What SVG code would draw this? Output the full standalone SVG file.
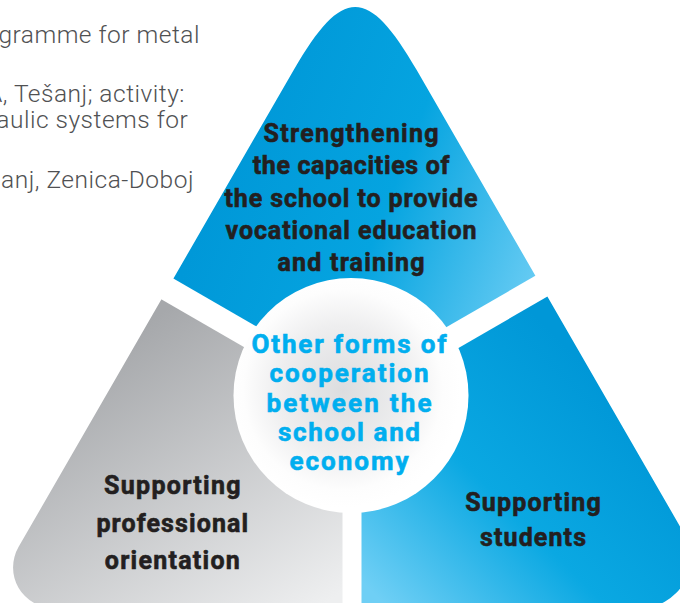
<svg xmlns="http://www.w3.org/2000/svg" width="680" height="603" viewBox="0 0 680 603">
  <style>
    .note { font-family: Roboto, "Liberation Sans", sans-serif; font-weight: 300; font-size: 24.5px; letter-spacing: 0.5px; fill: #505153; text-anchor: end; }
    .lbl { font-family: Roboto, "Liberation Sans", sans-serif; font-weight: 700; font-size: 25px; fill: #231f20; stroke: #231f20; stroke-width: 0.6px; text-anchor: middle; }
    .mid { font-family: Roboto, "Liberation Sans", sans-serif; font-weight: 700; font-size: 26px; fill: #00aeef; stroke: #00aeef; stroke-width: 0.6px; text-anchor: middle; }
  </style>
  <defs>
    <clipPath id="tri">
      <path d="M293.7,70 C342.3,-14.1 368.1,-14.1 416.7,70 L683.8,533 A50,50 0 0 1 640.5,608 L53.6,608 A40.6,40.6 0 0 1 18.5,547.1 Z"/>
    </clipPath>
    <linearGradient id="gTop" gradientUnits="userSpaceOnUse" x1="230" y1="150" x2="540" y2="270">
      <stop offset="0" stop-color="#0098d8"/>
      <stop offset="0.5" stop-color="#05a4e0"/>
      <stop offset="1" stop-color="#66cbf3"/>
    </linearGradient>
    <linearGradient id="gRight" gradientUnits="userSpaceOnUse" x1="600" y1="380" x2="380" y2="600">
      <stop offset="0" stop-color="#0097d7"/>
      <stop offset="0.5" stop-color="#0aa8e2"/>
      <stop offset="1" stop-color="#6fcff5"/>
    </linearGradient>
    <linearGradient id="gLeft" gradientUnits="userSpaceOnUse" x1="150" y1="320" x2="330" y2="600">
      <stop offset="0" stop-color="#a6a8ab"/>
      <stop offset="1" stop-color="#eeeff0"/>
    </linearGradient>
    <radialGradient id="gMid" gradientUnits="userSpaceOnUse" cx="343" cy="390" r="117.5">
      <stop offset="0" stop-color="#dcdddf"/>
      <stop offset="0.55" stop-color="#eeeeef"/>
      <stop offset="0.85" stop-color="#fdfdfd"/>
      <stop offset="1" stop-color="#ffffff"/>
    </radialGradient>
  </defs>

  <g id="note-text">
    <text class="note" x="200" y="43.3">gramme for metal</text>
    <text class="note" x="185" y="101.7">A, Tešanj; activity:</text>
    <text class="note" x="188.3" y="128.3">aulic systems for</text>
    <text class="note" x="194" y="188.3">anj, Zenica-Doboj</text>
  </g>

  <g id="segment-top">
    <polygon points="352,381.6 11.6,185.1 11.6,-50 692.4,-50 692.4,185.1" fill="url(#gTop)" clip-path="url(#tri)"/>
    <text class="lbl" x="351" y="142" textLength="175" lengthAdjust="spacing">Strengthening</text>
    <text class="lbl" x="351" y="174" textLength="196.7" lengthAdjust="spacing">the capacities of</text>
    <text class="lbl" x="351" y="206.5" textLength="253" lengthAdjust="spacing">the school to provide</text>
    <text class="lbl" x="351" y="238.5" textLength="251" lengthAdjust="spacing">vocational education</text>
    <text class="lbl" x="351" y="270.5" textLength="147" lengthAdjust="spacing">and training</text>
  </g>

  <g id="segment-left">
    <polygon points="342.5,403.9 -87,155.9 -87,650 342.5,650" fill="url(#gLeft)" clip-path="url(#tri)"/>
    <text class="lbl" x="172.3" y="493.5" textLength="136.7" lengthAdjust="spacing">Supporting</text>
    <text class="lbl" x="172.3" y="531.5" textLength="151.7" lengthAdjust="spacing">professional</text>
    <text class="lbl" x="172.3" y="568.5" textLength="135" lengthAdjust="spacing">orientation</text>
  </g>

  <g id="segment-right">
    <polygon points="361.5,403.9 791,155.9 791,650 361.5,650" fill="url(#gRight)" clip-path="url(#tri)"/>
    <text class="lbl" x="533" y="510.5" textLength="135.7" lengthAdjust="spacing">Supporting</text>
    <text class="lbl" x="533" y="545.5" textLength="106" lengthAdjust="spacing">students</text>
  </g>

  <g id="center">
    <circle cx="351" cy="395.5" r="117.5" fill="url(#gMid)"/>
    <text class="mid" x="349" y="353" textLength="195" lengthAdjust="spacing">Other forms of</text>
    <text class="mid" x="349" y="382" textLength="159" lengthAdjust="spacing">cooperation</text>
    <text class="mid" x="349" y="412" textLength="165" lengthAdjust="spacing">between the</text>
    <text class="mid" x="349" y="441" textLength="142" lengthAdjust="spacing">school and</text>
    <text class="mid" x="349" y="470" textLength="119" lengthAdjust="spacing">economy</text>
  </g>

  <g id="connectors"/>
</svg>
